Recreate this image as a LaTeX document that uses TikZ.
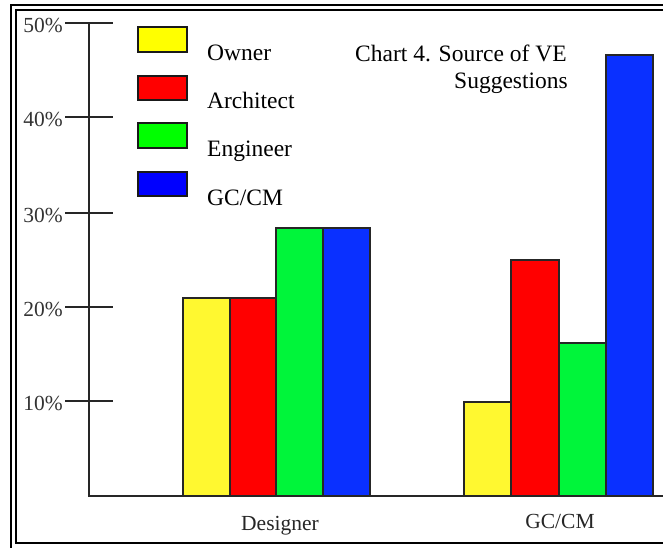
\documentclass[tikz,border=0pt]{standalone}
\usepackage{fontspec}
\setmainfont{Liberation Serif}
\definecolor{barYellow}{HTML}{FFF830}
\definecolor{barRed}{HTML}{FF0000}
\definecolor{barGreen}{HTML}{00F53A}
\definecolor{barBlue}{HTML}{0A30FF}
\definecolor{legYellow}{HTML}{FFFF00}
\definecolor{legRed}{HTML}{FF0000}
\definecolor{legGreen}{HTML}{00FF00}
\definecolor{legBlue}{HTML}{0000FF}
\tikzset{
  frameline/.style={line width=1.8pt, black},
  axisline/.style={line width=1.6pt, black!85},
  barbox/.style={draw=black!85, line width=1.5pt},
  swatch/.style={draw=black!90, line width=1.6pt},
  bigtext/.style={inner sep=0pt, font=\fontsize{23.5}{28}\selectfont},
  ticktext/.style={inner sep=0pt, text=black!80, font=\fontsize{21.5}{26}\selectfont},
  cattext/.style={inner sep=0pt, text=black!85, font=\fontsize{21.5}{26}\selectfont}
}
\begin{document}
\begin{tikzpicture}[x=1pt,y=-1pt]
\useasboundingbox (0,0) rectangle (663,548);
% double frame
\draw[frameline] (11,549) -- (11,5) -- (664,5);
\draw[frameline] (664,10) -- (16,10) -- (16,543) -- (664,543);
% bars: Designer
\fill[barYellow] (183,298) rectangle (230,496);
\draw[barbox] (183,496) -- (183,298) -- (230,298) -- (230,496);
\fill[barRed] (230,298) rectangle (276,496);
\draw[barbox] (230,496) -- (230,298) -- (276,298) -- (276,496);
\fill[barGreen] (276,228) rectangle (323,496);
\draw[barbox] (276,496) -- (276,228) -- (323,228) -- (323,496);
\fill[barBlue] (323,228) rectangle (370,496);
\draw[barbox] (323,496) -- (323,228) -- (370,228) -- (370,496);
% bars: GC/CM
\fill[barYellow] (464,402) rectangle (511,496);
\draw[barbox] (464,496) -- (464,402) -- (511,402) -- (511,496);
\fill[barRed] (511,260) rectangle (559,496);
\draw[barbox] (511,496) -- (511,260) -- (559,260) -- (559,496);
\fill[barGreen] (559,343) rectangle (606,496);
\draw[barbox] (559,496) -- (559,343) -- (606,343) -- (606,496);
\fill[barBlue] (606,55) rectangle (653,496);
\draw[barbox] (606,496) -- (606,55) -- (653,55) -- (653,496);
% axes
\coordinate (ytop) at (89,23);
\coordinate (origin) at (89,496);
\coordinate (xend) at (664,496);
\draw[axisline] (ytop) -- (origin) -- (xend);
\foreach \v/\yy in {10/401,20/307,30/213,40/117,50/23}{
  \draw[axisline] (65,\yy) -- (113,\yy);
  \node[ticktext, anchor=east] (t\v) at (63,\yy+2) {\v\%};
}
% category labels
\node[cattext, anchor=base] (catD) at (280,530) {Designer};
\node[cattext, anchor=base] (catG) at (560,528) {GC/CM};
% legend
\draw[swatch, fill=legYellow] (138,27) rectangle (187,52);
\draw[swatch, fill=legRed] (138,76) rectangle (187,100);
\draw[swatch, fill=legGreen] (138,123) rectangle (187,148);
\draw[swatch, fill=legBlue] (138,172) rectangle (187,196);
\node[bigtext, anchor=base west] (lOwner) at (207,61) {Owner};
\node[bigtext, anchor=base west] (lArch) at (207,109) {Architect};
\node[bigtext, anchor=base west] (lEng) at (207,157) {Engineer};
\node[bigtext, anchor=base west] (lGC) at (207,205) {GC/CM};
% title
\node[bigtext, anchor=base west] (title1) at (355,62) {Chart 4. Source of VE};
\node[bigtext, anchor=base east] (title2) at (568,89) {Suggestions};
\end{tikzpicture}
\end{document}
